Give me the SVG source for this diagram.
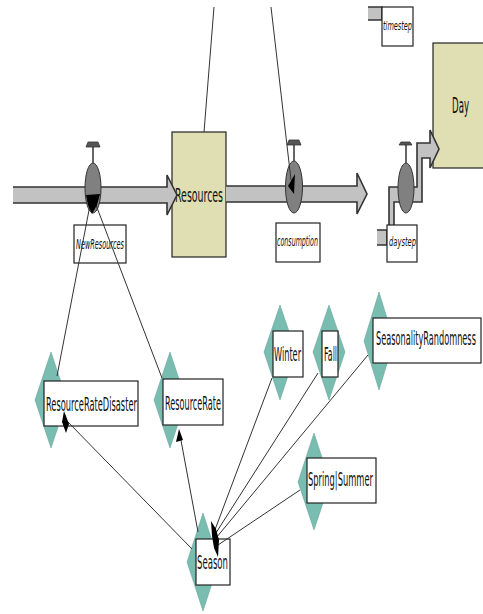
<svg xmlns="http://www.w3.org/2000/svg" width="483" height="614" viewBox="0 0 483 614">
<style>
.stock{fill:#dfdfb3;stroke:#222;stroke-width:1.2}
.pipe{fill:#c2c2c2;stroke:#333;stroke-width:1.6}
.valve{fill:#808080;stroke:#333;stroke-width:1}
.stem{stroke:#333;stroke-width:1.5;fill:none}
.cap{fill:#555;stroke:#333;stroke-width:0.8}
.lbl{fill:#fff;stroke:#222;stroke-width:1.2}
.dia{fill:#79bdb1;stroke:#5e9c92;stroke-width:0.5}
.t{font-family:"DejaVu Sans","Liberation Sans",sans-serif;fill:#111}
.ti{font-family:"DejaVu Sans","Liberation Sans",sans-serif;font-style:italic;fill:#111}
.link{stroke:#333;stroke-width:1;fill:none}
.head{fill:#000}
</style>

<g id="Resources">
<rect class="stock" x="172" y="132" width="54" height="125"/>
<text class="t" transform="translate(175,202) scale(0.45,1)" font-size="19" textLength="106.7" lengthAdjust="spacingAndGlyphs">Resources</text>
</g>

<g id="Day">
<rect class="stock" x="433" y="43" width="55" height="125"/>
<text class="t" transform="translate(452,113) scale(0.45,1)" font-size="21" textLength="37.8" lengthAdjust="spacingAndGlyphs">Day</text>
</g>

<g id="flows">
<path class="pipe" d="M13,187 H167 V175 L177,195 L167,215 V203 H13"/>
<path class="pipe" d="M226,186 H357 V173 L367,194 L357,214 V202 H226"/>
<path class="pipe" d="M389,225 V187 H417 V143 H430 V130 L439,149 L430,168 V158 H422 V202 H394 V225"/>
<path class="pipe" d="M377,230 H387 V245 H377"/>
<path class="pipe" d="M368,7 H382 V20 H368"/>
</g>

<g id="NewResources">
<line class="stem" x1="93" y1="147" x2="93" y2="163"/>
<polygon class="cap" points="86,147 100,147 98,142 88,142"/>
<ellipse class="valve" cx="93" cy="188" rx="8" ry="25"/>
<rect class="lbl" x="74" y="225" width="52" height="38"/>
<text class="ti" transform="translate(76,249) scale(0.45,1)" font-size="14" textLength="106.7" lengthAdjust="spacingAndGlyphs">NewResources</text>
</g>

<g id="consumption">
<line class="stem" x1="294" y1="145" x2="294" y2="161"/>
<polygon class="cap" points="287,145 301,145 299,140 289,140"/>
<ellipse class="valve" cx="294" cy="187" rx="8.5" ry="26"/>
<rect class="lbl" x="276" y="223" width="44" height="39"/>
<text class="ti" transform="translate(277,246) scale(0.45,1)" font-size="14" textLength="91" lengthAdjust="spacingAndGlyphs">consumption</text>
</g>

<g id="daystep">
<line class="stem" x1="406" y1="145" x2="406" y2="163"/>
<polygon class="cap" points="399,145 412,145 410,142 401,142"/>
<ellipse class="valve" cx="406" cy="188" rx="8" ry="25"/>
<rect class="lbl" x="387" y="225" width="30" height="37"/>
<text class="ti" transform="translate(389,246) scale(0.45,1)" font-size="13" textLength="60" lengthAdjust="spacingAndGlyphs">daystep</text>
</g>

<g id="timestep">
<rect class="lbl" x="382" y="7" width="31" height="39"/>
<text class="ti" transform="translate(383,30) scale(0.45,1)" font-size="12" textLength="64.4" lengthAdjust="spacingAndGlyphs">timestep</text>
</g>

<g id="ResourceRateDisaster">
<polygon class="dia" points="51,352 67,400 51,448 35,400"/>
<rect class="lbl" x="44" y="381" width="94" height="45"/>
<text class="t" transform="translate(46,411) scale(0.45,1)" font-size="19" textLength="202" lengthAdjust="spacingAndGlyphs">ResourceRateDisaster</text>
</g>

<g id="ResourceRate">
<polygon class="dia" points="170,352 186,400 170,448 154,400"/>
<rect class="lbl" x="163" y="379" width="60" height="46"/>
<text class="t" transform="translate(165,410) scale(0.45,1)" font-size="19" textLength="124.4" lengthAdjust="spacingAndGlyphs">ResourceRate</text>
</g>

<g id="Winter">
<polygon class="dia" points="280,305 296,352 280,400 264,352"/>
<rect class="lbl" x="273" y="331" width="30" height="46"/>
<text class="t" transform="translate(274,361) scale(0.45,1)" font-size="19" textLength="60" lengthAdjust="spacingAndGlyphs">Winter</text>
</g>

<g id="Fall">
<polygon class="dia" points="329,305 345,352 329,400 313,352"/>
<rect class="lbl" x="322" y="331" width="16" height="46"/>
<text class="t" transform="translate(324,361) scale(0.45,1)" font-size="19" textLength="28.9" lengthAdjust="spacingAndGlyphs">Fall</text>
</g>

<g id="SeasonalityRandomness">
<polygon class="dia" points="379,292 394,341 379,390 364,341"/>
<rect class="lbl" x="373" y="318" width="108" height="45"/>
<text class="t" transform="translate(376,345) scale(0.45,1)" font-size="19" textLength="222" lengthAdjust="spacingAndGlyphs">SeasonalityRandomness</text>
</g>

<g id="SpringSummer">
<polygon class="dia" points="314,433 330,482 314,530 298,482"/>
<rect class="lbl" x="307" y="458" width="69" height="45"/>
<text class="t" transform="translate(308,486) scale(0.45,1)" font-size="19" textLength="144.4" lengthAdjust="spacingAndGlyphs">Spring|Summer</text>
</g>

<g id="Season">
<polygon class="dia" points="203,513 219,562 203,611 187,562"/>
<rect class="lbl" x="196" y="539" width="34" height="46"/>
<text class="t" transform="translate(197,569) scale(0.45,1)" font-size="19" textLength="68.9" lengthAdjust="spacingAndGlyphs">Season</text>
</g>

<g id="connectors">
<line class="link" x1="214" y1="7" x2="204" y2="132"/>
<line class="link" x1="271" y1="7" x2="291" y2="180"/>
<polygon class="head" points="288,186 295,174 294,194"/>
<line class="link" x1="57" y1="376" x2="90" y2="205"/>
<line class="link" x1="162" y1="378" x2="96" y2="205"/>
<polygon class="head" points="86,195 100,194 97,205 92,214 88,205"/>
<line class="link" x1="192" y1="549" x2="67" y2="421"/>
<polygon class="head" points="64,411 69,424 66,433 62,422"/>
<line class="link" x1="198" y1="532" x2="180" y2="435"/>
<polygon class="head" points="179,429 183,440 176,442"/>
<line class="link" x1="272" y1="378" x2="213" y2="535"/>
<line class="link" x1="318" y1="373" x2="214" y2="536"/>
<line class="link" x1="368" y1="355" x2="216" y2="538"/>
<line class="link" x1="300" y1="490" x2="218" y2="545"/>
<polygon class="head" points="211,521 216,529 219,540 218,557 214,548 212,536"/>
</g>
</svg>
